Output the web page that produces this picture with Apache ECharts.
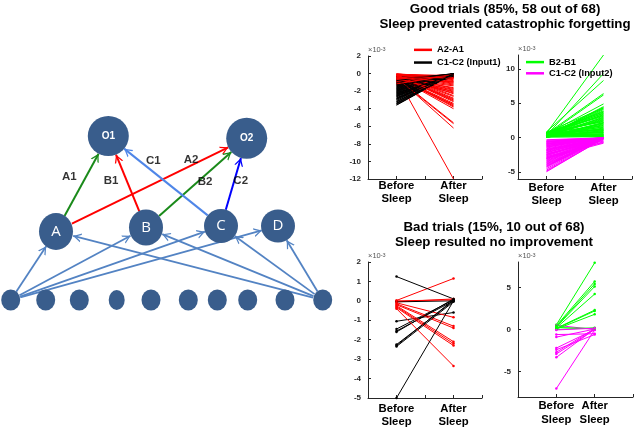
<!DOCTYPE html>
<html><head><meta charset="utf-8">
<script src="https://cdn.jsdelivr.net/npm/echarts@6/dist/echarts.min.js"></script>
<style>html,body{margin:0;padding:0;background:#fff}#c{width:640px;height:429px}</style>
</head><body><div id="c"></div>
<script>
// ---------------- DATA (values in units of 10^-3) ----------------
const xCategories = ['Before\nSleep', 'After\nSleep'];

// Good trials (58)
const redBefore = [-0.05,-0.31,-0.12,-0.62,-0.20,-0.44,-0.08,-0.95,-0.27,-0.51,
 -0.15,-0.73,-0.36,-0.34,-0.58,-1.12,-0.22,-0.40,-0.85,-0.10,
 -0.67,-0.33,-0.18,-1.28,-0.48,-0.06,-0.79,-0.25,-0.55,-0.14,
 -0.91,-0.38,-0.03,-0.70,-0.29,-1.05,-0.46,-0.11,-0.60,-0.21,
 -0.83,-0.35,-0.09,-0.52,-1.18,-0.24,-0.42,-0.65,-0.17,-0.98,
 -0.30,-0.07,-0.75,-0.57,-0.13,-0.88,-0.39,-0.26];
const redAfter = [-0.40,-3.70,-1.10,-0.05,-2.30,-5.60,-0.60,-0.10,-3.00,-1.80,
 -0.20,-0.30,-3.40,-12.0,-1.40,-0.02,-2.60,-6.20,-0.15,-0.90,
 -2.00,-3.80,-0.50,-0.08,-1.60,-0.30,-0.40,-2.90,-3.50,-1.20,
 -0.12,-4.00,-0.70,-0.25,-2.10,-0.05,-1.90,-0.80,-0.60,-3.20,
 -0.18,-1.30,-2.50,-5.70,-0.10,-3.60,-0.95,-0.20,-2.80,-0.15,
 -1.70,-0.45,-0.35,-2.20,-3.10,-0.10,-1.00,-0.55];
const blackBefore = [-1.45,-2.10,-0.85,-3.20,-1.70,-2.55,-0.60,-1.95,-2.80,-1.20,
 -3.55,-1.05,-2.35,-0.95,-1.60,-2.95,-0.45,-2.20,-1.35,-3.05,
 -1.85,-2.65,-0.75,-1.50,-2.45,-3.35,-1.15,-2.00,-0.55,-2.75,
 -1.65,-3.15,-1.25,-2.30,-0.90,-1.80,-2.60,-3.45,-1.40,-2.15,
 -0.70,-1.90,-2.85,-1.10,-3.60,-2.40,-1.55,-0.35,-2.05,-3.25,
 -1.75,-2.50,-1.00,-2.90,-1.30,-0.80,-2.25,-3.40];
const blackAfter = [-0.05,0.00,-0.10,-0.02,-0.20,-0.04,-0.15,0.00,-0.08,-0.30,
 -0.01,-0.12,-0.03,-0.45,0.00,-0.06,-0.25,-0.02,-0.10,0.00,
 -0.18,-0.04,-0.35,-0.01,-0.07,0.00,-0.22,-0.03,-0.14,-0.05,
 0.00,-0.09,-0.28,-0.02,-0.16,-0.04,0.00,-0.11,-0.06,-0.40,
 -0.01,-0.13,-0.03,-0.20,0.00,-0.08,-0.05,-0.24,-0.02,-0.10,
 0.00,-0.15,-0.04,-0.07,-0.32,-0.01,-0.12,-0.03];
const greenBefore = [0.10,0.45,0.20,0.65,0.05,0.30,0.80,0.15,0.55,0.25,
 0.40,0.70,0.08,0.35,0.60,0.18,0.50,0.02,0.75,0.28,
 0.42,0.12,0.85,0.32,0.58,0.22,0.48,0.04,0.68,0.38,
 0.14,0.52,0.26,0.78,0.09,0.44,0.62,0.19,0.34,0.72,
 0.06,0.46,0.24,0.56,0.16,0.66,0.36,0.03,0.54,0.29,
 0.82,0.11,0.41,0.64,0.21,0.49,0.07,0.33];
const greenAfter = [1.20,3.80,0.40,12.0,2.10,0.80,4.30,1.60,6.40,2.70,
 0.20,3.20,1.00,9.30,2.40,0.60,4.90,1.80,3.50,0.10,
 2.90,1.40,8.30,0.90,3.90,2.20,0.50,4.40,1.10,6.20,
 3.00,0.30,2.60,1.70,4.10,0.70,3.30,2.00,1.30,3.70,
 0.15,2.50,4.50,1.50,0.35,3.10,2.80,1.90,0.75,3.60,
 2.30,1.05,4.20,0.25,3.40,1.25,2.15,0.45];
const magentaBefore = [-2.40,-0.80,-3.60,-1.50,-4.20,-0.40,-2.90,-1.90,-3.30,-1.10,
 -4.70,-2.10,-0.60,-3.00,-1.70,-4.00,-2.60,-0.95,-3.80,-1.30,
 -2.20,-4.50,-0.50,-3.10,-1.80,-2.75,-0.70,-3.50,-1.20,-4.85,
 -2.00,-3.20,-0.85,-2.50,-1.60,-3.90,-0.30,-2.80,-1.40,-4.30,
 -2.30,-1.00,-3.40,-0.55,-2.65,-1.75,-3.70,-1.15,-4.10,-2.15,
 -0.65,-3.00,-1.85,-2.45,-4.95,-1.35,-2.95,-0.90];
const magentaAfter = [0.00,-0.05,0.02,-0.10,0.00,-0.02,-0.60,0.01,-0.15,0.00,
 -0.05,0.00,-0.02,-0.80,0.00,-0.08,0.01,-0.03,-0.20,0.00,
 -0.04,0.00,-0.10,-0.02,0.00,-0.70,-0.01,0.00,-0.06,-0.12,
 0.00,-0.03,0.01,-0.05,-0.25,0.00,-0.02,-0.08,0.00,-0.04,
 -0.50,0.00,-0.01,-0.07,0.00,-0.03,-0.15,0.00,-0.02,-0.05,
 0.00,-0.35,-0.01,0.00,-0.09,-0.02,0.00,-0.04];

// Bad trials (10)
const badRedBefore   = [0.02,-0.05,0.00,-0.10,-0.15,-0.20,-0.25,-0.30,-0.35,-0.40];
const badRedAfter    = [1.15,0.10,0.05,-0.85,-1.30,-1.40,-2.10,-2.20,-2.30,-3.35];
const badBlackBefore = [1.25,-0.05,-1.05,-1.45,-1.55,-1.60,-2.25,-2.30,-2.35,-5.00];
const badBlackAfter  = [0.10,0.00,-0.60,0.05,0.00,0.10,0.00,0.05,-0.05,0.00];
const badGreenBefore = [0.55,0.45,0.35,0.30,0.20,0.15,0.10,0.05,0.00,0.25];
const badGreenAfter  = [7.90,5.70,5.40,5.10,4.20,2.30,2.20,1.80,0.20,0.10];
const badMagBefore   = [0.50,-0.60,-0.90,-2.20,-2.40,-2.70,-2.90,-3.30,-7.00,-0.05];
const badMagAfter    = [0.00,-0.50,0.05,0.00,-0.60,0.10,0.00,0.05,-0.05,0.15];

// Tick values
const ticksTL = [-12,-10,-8,-6,-4,-2,0,2];
const ticksTR = [-5,0,5,10];
const ticksBL = [-5,-4,-3,-2,-1,0,1,2];
const ticksBR = [-5,0,5];

// Network diagram
const netNodeNames = ['O1','O2','A','B','C','D','i0','i1','i2','i3','i4','i5','i6','i7','i8','i9'];
const netNodeX = [108.3,246.7,56,146,221,278,10.7,45.7,79.3,116.7,151,188.3,217.3,247.7,285,322.7];
const netNodeY = [136,138.3,231.5,227.5,226,226,300,300,300,300,300,300,300,300,300,300];
const netLinks = [['A','O1'],['A','O2'],['B','O1'],['B','O2'],['C','O1'],['C','O2'],
  ['i0','A'],['i0','B'],['i0','C'],['i0','D'],['i9','A'],['i9','B'],['i9','C'],['i9','D']];
const weightNames = ['A1','B1','C1','A2','B2','C2'];
const weightX = [69.3,111,153.3,191,205,240.7];
const weightY = [177.3,181,161,160,181.7,181];

// ---------------- STYLE ----------------
const FONT = "'Liberation Sans', Arial, sans-serif";
const AX = '#262626';
const NODE = '#395D8C';
const nodeSizes = {O1:[41,40],O2:[41,41],A:[34,37],B:[34,36],C:[34,34],D:[34,33],i3:[16,20]};
const linkColors = {'A-O1':'#1A8A1A','A-O2':'#FF0000','B-O1':'#FF0000','B-O2':'#1A8A1A','C-O1':'#4F86E8','C-O2':'#0000FF'};
const ARROW = 'path://M0,10 L5,0 L10,10 L8.4,10 L5,3.2 L1.6,10 Z M4.9,-10 L5.1,-10 Z';

function xAx(gi, min, max, interval, margin) {
  return {type:'value', gridIndex:gi, min, max, interval,
    axisLine:{show:true, onZero:false, lineStyle:{color:AX, width:1}},
    axisTick:{show:true, inside:true, length:3, lineStyle:{color:AX}},
    splitLine:{show:false},
    axisLabel:{margin, fontFamily:FONT, fontSize:11.3, fontWeight:'bold', color:'#000', lineHeight:13.3,
      showMinLabel:true, showMaxLabel:true,
      formatter: v => v === 1 ? xCategories[0] : (v === 2 ? xCategories[1] : '')}};
}
function yAx(gi, min, max, ticks, margin) {
  return {type:'value', gridIndex:gi, min, max,
    axisLine:{show:true, onZero:false, lineStyle:{color:AX, width:1}},
    axisTick:{show:true, inside:true, length:3, lineStyle:{color:AX}, customValues:ticks},
    splitLine:{show:false},
    axisLabel:{margin, fontFamily:FONT, fontSize:8, fontWeight:'bold', color:AX, customValues:ticks,
      showMinLabel:true, showMaxLabel:true},
    name:'×10{s|-3}', nameLocation:'end', nameGap:2,
    nameTextStyle:{align:'left', verticalAlign:'bottom', fontFamily:FONT, fontSize:7.5, color:'#555',
      rich:{s:{fontSize:5.5, verticalAlign:'top', color:'#555', fontFamily:FONT}}}};
}
function seg(name, b, a, color, gi, dots) {
  return {type:'line', name, xAxisIndex:gi, yAxisIndex:gi, data:[[1,b],[2,a]],
    showSymbol:!!dots, symbol:'circle', symbolSize:2.5,
    lineStyle:{color, width:1}, itemStyle:{color}, silent:true, animation:false};
}

const series = [];
for (let i = 0; i < redBefore.length; i++) {
  series.push(seg('A2-A1', redBefore[i], redAfter[i], '#FF0000', 0));
  series.push(seg('C1-C2 (Input1)', blackBefore[i], blackAfter[i], '#000000', 0));
}
for (let i = 0; i < greenBefore.length; i++) {
  series.push(seg('B2-B1', greenBefore[i], greenAfter[i], '#00FF00', 1));
  series.push(seg('C1-C2 (Input2)', magentaBefore[i], magentaAfter[i], '#FF00FF', 1));
}
for (let i = 0; i < badRedBefore.length; i++) {
  series.push(seg('A2-A1', badRedBefore[i], badRedAfter[i], '#FF0000', 2, true));
  series.push(seg('C1-C2 (Input1)', badBlackBefore[i], badBlackAfter[i], '#000000', 2, true));
}
for (let i = 0; i < badGreenBefore.length; i++) {
  series.push(seg('B2-B1', badGreenBefore[i], badGreenAfter[i], '#00FF00', 3, true));
  series.push(seg('C1-C2 (Input2)', badMagBefore[i], badMagAfter[i], '#FF00FF', 3, true));
}

// network graph
series.push({
  type:'graph', layout:'none', coordinateSystem:'cartesian2d', xAxisIndex:4, yAxisIndex:4,
  silent:true, animation:false, emphasis:{disabled:true},
  data: netNodeNames.map((n, i) => ({
    name:n, value:[netNodeX[i], netNodeY[i]],
    symbolSize: nodeSizes[n] || [19,21],
    itemStyle:{color:NODE},
    label: n[0] === 'i' ? {show:false} :
      (n[0] === 'O' ? {show:true, position:'inside', color:'#fff', fontFamily:FONT, fontWeight:'bold', fontSize:10}
                    : {show:true, position:'inside', color:'#fff', fontFamily:"'Open Sans', sans-serif", fontSize:15})
  })),
  links: netLinks.map(([s, t]) => ({source:s, target:t,
    lineStyle:{color: linkColors[s + '-' + t] || '#5383C3', width: linkColors[s + '-' + t] ? 2 : 1.8, opacity:1}})),
  edgeSymbol:['circle', ARROW], edgeSymbolSize:[0.1, [9,16]],
  lineStyle:{opacity:1, curveness:0}
});
series.push({
  type:'scatter', xAxisIndex:4, yAxisIndex:4, silent:true, animation:false,
  symbolSize:1, itemStyle:{color:'rgba(0,0,0,0)'},
  data: weightNames.map((n, i) => ({name:n, value:[weightX[i], weightY[i]]})),
  label:{show:true, position:'inside', formatter:'{b}', color:'#000', fontFamily:FONT, fontWeight:'bold', fontSize:11.5}
});

const gridBase = {outerBoundsMode:'none', containLabel:false};
const option = {
  backgroundColor:'#fff',
  animation:false,
  title:[
    {text:'Good trials (85%, 58 out of 68)\nSleep prevented catastrophic forgetting', left:505, top:2, textAlign:'center', padding:0,
     textStyle:{fontFamily:FONT, fontSize:13.3, fontWeight:'bold', color:'#000', lineHeight:14.7}},
    {text:'Bad trials (15%, 10 out of 68)\nSleep resulted no improvement', left:494, top:220.5, textAlign:'center', padding:0,
     textStyle:{fontFamily:FONT, fontSize:13.3, fontWeight:'bold', color:'#000', lineHeight:14.3}}
  ],
  legend:[
    {left:414, top:44, orient:'vertical', padding:0, itemGap:1, itemWidth:18, itemHeight:2.5, icon:'rect', selectedMode:false,
     data:['A2-A1','C1-C2 (Input1)'], textStyle:{fontFamily:FONT, fontSize:9.3, fontWeight:'bold', color:'#000', lineHeight:11.7}},
    {left:526, top:57, orient:'vertical', padding:0, itemGap:1, itemWidth:18, itemHeight:2.5, icon:'rect', selectedMode:false,
     data:['B2-B1','C1-C2 (Input2)'], textStyle:{fontFamily:FONT, fontSize:9.3, fontWeight:'bold', color:'#000', lineHeight:10.2}}
  ],
  grid:[
    Object.assign({left:368, top:56, width:114, height:123}, gridBase),
    Object.assign({left:518, top:55, width:114, height:124}, gridBase),
    Object.assign({left:368, top:262, width:114, height:136}, gridBase),
    Object.assign({left:518, top:262, width:115, height:135}, gridBase),
    Object.assign({left:0, top:0, width:330, height:429}, gridBase)
  ],
  xAxis:[
    xAx(0, 0.5, 2.5, 0.5, 0),
    xAx(1, 0.5, 2.5, 0.5, 2),
    xAx(2, 0.5, 2.5, 0.5, 4),
    xAx(3, 0, 3, 1, 2.5),
    {type:'value', gridIndex:4, min:0, max:330, show:false}
  ],
  yAxis:[
    yAx(0, -12, 2, ticksTL, 7),
    yAx(1, -6, 12, ticksTR, 3),
    yAx(2, -5, 2, ticksBL, 7),
    yAx(3, -8, 8, ticksBR, 7),
    {type:'value', gridIndex:4, min:0, max:429, inverse:true, show:false}
  ],
  series
};
const chart = echarts.init(document.getElementById('c'));
chart.setOption(option);
</script></body></html>
